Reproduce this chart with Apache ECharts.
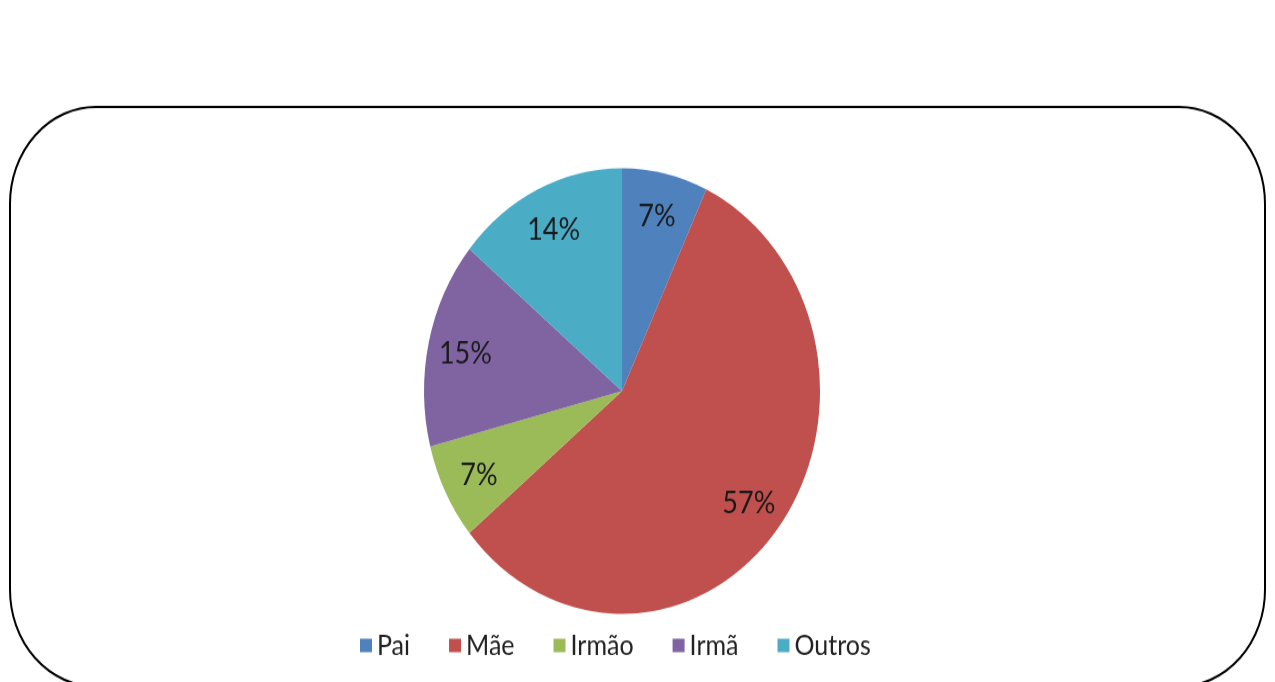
<!DOCTYPE html>
<html>
<head>
<meta charset="utf-8">
<script src="https://cdn.jsdelivr.net/npm/echarts@6/dist/echarts.min.js"></script>
<style>
  html, body { margin: 0; padding: 0; background: #ffffff; overflow: hidden; }
  #wrap { width: 1275px; height: 682px; overflow: hidden; position: relative; }
  #chart { width: 1275px; height: 606px; transform: scaleY(1.12541); transform-origin: 0 0; }
</style>
</head>
<body>
<div id="wrap"><div id="chart"></div></div>
<script>
// ---- data ----
const categories = ['Pai', 'Mãe', 'Irmão', 'Irmã', 'Outros'];
const values = [7, 57, 7, 15, 14];
const palette = ['#4F81BD', '#C0504D', '#9BBB59', '#8064A2', '#4BACC6'];

const chart = echarts.init(document.getElementById('chart'), null, { renderer: 'canvas' });

const pieData = categories.map((name, i) => ({ name: name, value: values[i], itemStyle: { color: palette[i] } }));
const labelData = categories.map((name, i) => ({ name: name, value: values[i] }));

const option = {
  backgroundColor: '#ffffff',
  animation: false,
  graphic: [
    {
      type: 'rect',
      shape: { x: 10, y: 95, width: 1255, height: 515, r: 86 },
      style: { fill: 'none', stroke: '#000000', lineWidth: 2 },
      z: 0
    }
  ],
  legend: {
    left: 360,
    top: 561,
    padding: 0,
    itemWidth: 12,
    itemHeight: 12,
    itemGap: 39,
    icon: 'rect',
    selectedMode: false,
    textStyle: { fontFamily: 'Lato', fontSize: 25, color: '#222222' },
    data: categories.map((n, i) => ({ name: n, itemStyle: { color: palette[i] } }))
  },
  series: [
    {
      type: 'pie',
      center: [622, 347.4],
      radius: [0, 198],
      startAngle: 90,
      clockwise: true,
      data: pieData,
      label: { show: false },
      labelLine: { show: false },
      emphasis: { disabled: true },
      itemStyle: { borderWidth: 0 },
      z: 2
    },
    {
      type: 'pie',
      center: [622, 347.4],
      radius: [117, 198],
      startAngle: 90,
      clockwise: true,
      silent: true,
      data: labelData,
      itemStyle: { color: 'rgba(0,0,0,0)', borderWidth: 0 },
      label: {
        show: true,
        position: 'inside',
        formatter: '{c}%',
        fontFamily: 'Lato',
        fontSize: 27,
        color: '#1a1a1a',
        offset: [0, 2]
      },
      labelLine: { show: false },
      emphasis: { disabled: true },
      z: 3
    }
  ]
};

chart.setOption(option);
</script>
</body>
</html>
